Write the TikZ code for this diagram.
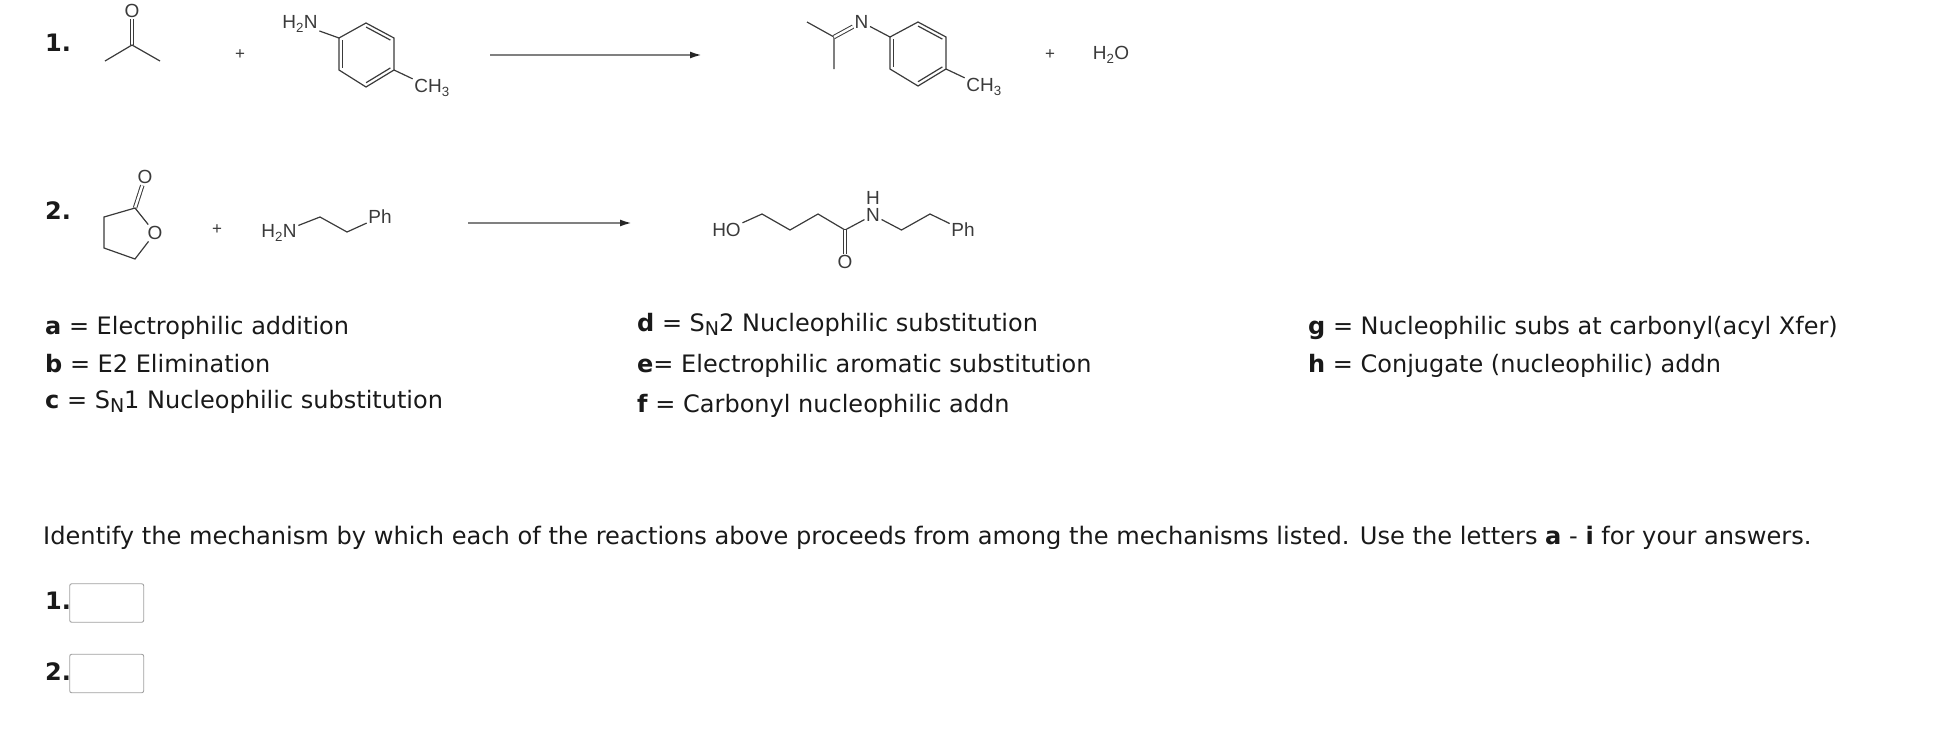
\documentclass[tikz,border=0pt]{standalone}
\usepackage{fontspec}
\setmainfont{DejaVu Sans}
\newfontfamily\chemfont{Liberation Sans}
\usetikzlibrary{arrows.meta, calc}
\definecolor{inkgray}{HTML}{3A3A3A}
\definecolor{framegray}{HTML}{A0A0A0}
\newcommand{\subN}{\raisebox{-.32ex}{\fontsize{19}{20}\selectfont N}}
\tikzset{
    bond/.style={draw=inkgray, line width=1.2pt},
    dblbond/.style={draw=inkgray, double, double distance=2.4pt, line width=1pt},
    atomlabel/.style={font=\chemfont\fontsize{19}{20}\selectfont, text=inkgray, inner sep=1.5pt},
    pluslabel/.style={font=\chemfont\fontsize{17}{18}\selectfont, text=inkgray, inner sep=0pt},
    rxnarrow/.style={draw=black!50, line width=2pt, -{Latex[length=12pt, width=7pt, color=black!85]}},
    itemlabel/.style={anchor=base west, inner sep=0pt, font=\fontsize{24}{28}\selectfont, text=black!90},
    answerbox/.style={draw=framegray, line width=.9pt, rounded corners=2pt, minimum width=74pt, minimum height=38.5pt, inner sep=0pt}
}
% six ring corners 1..6 from the lower left, double lines drawn towards the middle
\newcommand{\toluring}[1]{
    \draw[bond] (#11) -- (#12) -- (#13) -- (#14) -- (#15) -- (#16) -- cycle;
    \coordinate (#1m) at ($(#11)!.5!(#14)$);
    \foreach \p/\q in {1/2, 3/4, 5/6}
        \draw[bond] ($(#1\p)!.13!(#1m)$) -- ($(#1\q)!.13!(#1m)$);
}
\begin{document}
\begin{tikzpicture}[x=1pt, y=-1pt]
    \useasboundingbox (0,0) rectangle (1936,732);

    % reaction 1
    \node[itemlabel] (numa) at (45,51) {\textbf{1.}};
    \node[atomlabel] (acO) at (132,11) {O};
    \coordinate (acC) at (132,45);
    \coordinate (acL) at (105,61);
    \coordinate (acR) at (160,61);
    \draw[dblbond] (acC) -- (acO);
    \draw[bond] (acL) -- (acC) -- (acR);
    \node[pluslabel] (plusa) at (240,55) {+};

    \foreach \n/\x/\y in {1/339/70, 2/339/38, 3/366/23, 4/394/38, 5/394/70, 6/366/87}
        \coordinate (tol\n) at (\x,\y);
    \toluring{tol}
    \node[atomlabel] (tolN) at (300,24) {H\textsubscript{2}N};
    \node[atomlabel] (tolMe) at (432,88) {CH\textsubscript{3}};
    \draw[bond] (tolN) -- (tol2);
    \draw[bond] (tol5) -- (tolMe);

    \coordinate (arrastart) at (490,55);
    \coordinate (arraend) at (702,55);
    \draw[rxnarrow] (arrastart) -- (arraend);

    \foreach \n/\x/\y in {1/890/69, 2/890/37, 3/918/22, 4/946/37, 5/946/69, 6/918/86}
        \coordinate (imi\n) at (\x,\y);
    \toluring{imi}
    \node[atomlabel] (imiN) at (861.5,22) {N};
    \node[atomlabel] (imiMe) at (984,87) {CH\textsubscript{3}};
    \coordinate (imiC) at (834,37);
    \coordinate (imiA) at (807,22);
    \coordinate (imiB) at (834,69);
    \draw[bond] (imiA) -- (imiC) -- (imiB);
    \draw[dblbond] (imiC) -- (imiN);
    \draw[bond] (imiN) -- (imi2);
    \draw[bond] (imi5) -- (imiMe);
    \node[pluslabel] (plusb) at (1050,55) {+};
    \node[atomlabel] (water) at (1111,55) {H\textsubscript{2}O};

    % reaction 2
    \node[itemlabel] (numb) at (45,219) {\textbf{2.}};
    \node[atomlabel] (lacOx) at (145,177) {O};
    \node[atomlabel] (lacO) at (155,233) {O};
    \coordinate (lacC) at (135,208);
    \coordinate (lacA) at (104,217);
    \coordinate (lacB) at (104,248);
    \coordinate (lacD) at (135,259);
    \draw[dblbond] (lacC) -- (lacOx);
    \draw[bond] (lacO) -- (lacC) -- (lacA) -- (lacB) -- (lacD) -- (lacO);
    \node[pluslabel] (plusc) at (217,230) {+};

    \node[atomlabel] (amiN) at (279,233) {H\textsubscript{2}N};
    \node[atomlabel] (amiPh) at (380,217) {Ph};
    \coordinate (amiA) at (320,217);
    \coordinate (amiB) at (347,232);
    \draw[bond] (amiN) -- (amiA) -- (amiB) -- (amiPh);

    \coordinate (arrbstart) at (468,223);
    \coordinate (arrbend) at (632,223);
    \draw[rxnarrow] (arrbstart) -- (arrbend);

    \node[atomlabel] (proHO) at (726.5,230) {HO};
    \node[atomlabel] (proN) at (873,215) {N};
    \node[atomlabel] (proH) at (873,197.5) {H};
    \node[atomlabel] (proO) at (845,262) {O};
    \node[atomlabel] (proPh) at (963,230) {Ph};
    \coordinate (proA) at (762,214);
    \coordinate (proB) at (790,230);
    \coordinate (proC) at (818,214);
    \coordinate (proD) at (845,230);
    \coordinate (proE) at (901.5,230);
    \coordinate (proF) at (930,214);
    \draw[bond] (proHO) -- (proA) -- (proB) -- (proC) -- (proD) -- (proN) -- (proE) -- (proF) -- (proPh);
    \draw[dblbond] (proD) -- (proO);

    % mechanism lists
    \node[itemlabel] (mecha) at (45,334) {\textbf{a} = Electrophilic addition};
    \node[itemlabel] (mechb) at (45,372) {\textbf{b} = E2 Elimination};
    \node[itemlabel] (mechc) at (45,408) {\textbf{c} = S\subN 1 Nucleophilic substitution};
    \node[itemlabel] (mechd) at (637,331) {\textbf{d} = S\subN 2 Nucleophilic substitution};
    \node[itemlabel] (meche) at (637,372) {\textbf{e}= Electrophilic aromatic substitution};
    \node[itemlabel] (mechf) at (637,412) {\textbf{f} = Carbonyl nucleophilic addn};
    \node[itemlabel] (mechg) at (1308,334) {\textbf{g} = Nucleophilic subs at carbonyl(acyl Xfer)};
    \node[itemlabel] (mechh) at (1308,372) {\textbf{h} = Conjugate (nucleophilic) addn};

    % question and answers
    \node[itemlabel, font=\fontsize{24.12}{28}\selectfont] (question) at (43,544) {Identify the mechanism by which each of the reactions above proceeds from among the mechanisms listed. Use the letters \textbf{a} - \textbf{i} for your answers.};
    \node[itemlabel] (ansa) at (45,609) {\textbf{1.}};
    \node[answerbox] (boxa) at (106.7,603) {};
    \node[itemlabel] (ansb) at (45,680) {\textbf{2.}};
    \node[answerbox] (boxb) at (106.7,673.5) {};
\end{tikzpicture}
\end{document}
